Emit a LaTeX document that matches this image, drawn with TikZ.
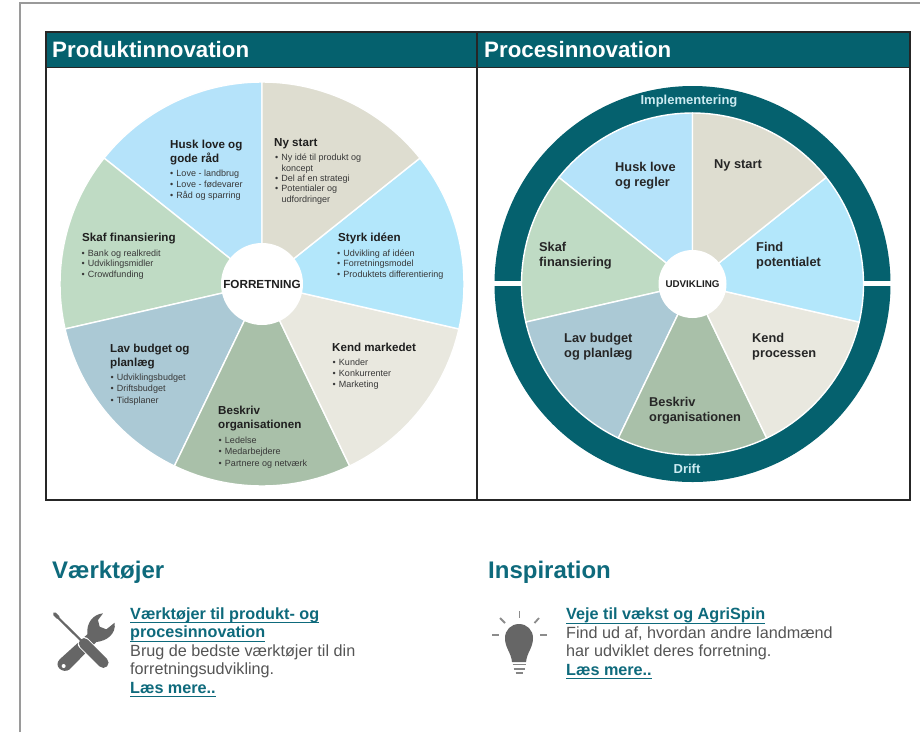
\documentclass[tikz,border=0pt]{standalone}
\usepackage{fontspec}
\setmainfont{Liberation Sans}
\definecolor{teal1}{HTML}{05616E}
\definecolor{linkc}{HTML}{0E6A7C}
\definecolor{frameg}{HTML}{9A9A9A}
\definecolor{bodyg}{HTML}{555555}
\definecolor{icong}{HTML}{666666}
\definecolor{cny}{HTML}{DEDDD0}
\definecolor{cstyrk}{HTML}{B3E7FB}
\definecolor{ckend}{HTML}{E9E8DF}
\definecolor{cbesk}{HTML}{A9C0A9}
\definecolor{clav}{HTML}{ABC9D5}
\definecolor{cskaf}{HTML}{BFDBC4}
\definecolor{chusk}{HTML}{B5E3FA}
\definecolor{ringtxt}{HTML}{CDEBF2}
\newcommand{\bu}{\makebox[6.3pt][l]{•}}
\newcommand{\cnt}{\hspace*{6.3pt}}
\newcommand{\lnk}[1]{\underline{\smash{#1}\rule[-1.8pt]{0pt}{1.8pt}}}
\tikzset{
  tline/.style={anchor=base west,inner sep=0pt,align=left},
  headA/.style={tline,font=\fontsize{11.6}{14}\selectfont\bfseries,text=black!88},
  bulletlist/.style={tline,font=\fontsize{9}{#1}\selectfont,text=black!78},
  headB/.style={tline,font=\fontsize{12.8}{15}\selectfont\bfseries,text=black!85},
  paneltitle/.style={anchor=base west,inner sep=0pt,font=\fontsize{22.3}{26}\selectfont\bfseries,text=white},
  sectiontitle/.style={anchor=base west,inner sep=0pt,font=\fontsize{24}{28}\selectfont\bfseries,text=linkc},
  bodytext/.style={tline,font=\fontsize{16.2}{18.5}\selectfont,text=bodyg},
  hub/.style={circle,fill=white,inner sep=0pt,font=\bfseries,text=black!88},
  ringlabel/.style={anchor=base,inner sep=0pt,font=\fontsize{13}{15}\selectfont\bfseries,text=ringtxt},
  wedge/.style={draw=white,line width=1.4pt,line join=round},
  ray/.style={draw=icong!75,line width=1.8pt}
}
\newcommand{\wheel}[1]{%
  \foreach \a/\c in {90/chusk,141.43/cskaf,192.86/clav,244.29/cbesk,295.71/ckend,347.14/cstyrk,38.57/cny}{%
    \pgfmathsetmacro{\e}{\a+51.43}%
    \path[wedge,fill=\c] (0,0) -- (\a:#1) arc[start angle=\a,end angle=\e,radius=#1pt] -- cycle;
  }}
\begin{document}
\begin{tikzpicture}[x=1pt,y=-1pt]
\useasboundingbox (0,0) rectangle (920,732);
\fill[white] (0,0) rectangle (920,732);
% page frame
\draw[frameg,line width=1.3pt] (20,732) -- (20,3) -- (920,3);
% table
\fill[teal1] (46,32) rectangle (910,67.5);
\draw[black!85,line width=1.1pt] (46,32) rectangle (910,500);
\draw[black!85,line width=1.1pt] (46,67.5) -- (910,67.5);
\draw[black!85,line width=1.1pt] (477,32) -- (477,500);
\node[paneltitle] (tprod) at (52,57) {Produktinnovation};
\node[paneltitle] (tproc) at (484,57) {Procesinnovation};
% left wheel
\begin{scope}[shift={(262,284)},x=1pt,y=1pt]
  \wheel{202}
\end{scope}
\node[hub,minimum size=82pt,font=\fontsize{11.7}{14}\selectfont\bfseries] (hubA) at (262,284) {FORRETNING};
% multi-line nodes are placed by the baseline of their last line
\node[headA] (a1) at (170,162) {Husk love og\\gode råd};
\node[bulletlist=10.6pt] (a1l) at (170,198) {\bu Love - landbrug\\\bu Love - fødevarer\\\bu Råd og sparring};
\node[headA] (a2) at (274,146) {Ny start};
\node[bulletlist=10.3pt] (a2l) at (275,202) {\bu Ny idé til produkt og\\\cnt koncept\\\bu Del af  en strategi\\\bu Potentialer og\\\cnt udfordringer};
\node[headA] (a3) at (338,241) {Styrk idéen};
\node[bulletlist=10.7pt] (a3l) at (337,277.5) {\bu Udvikling af  idéen\\\bu Forretningsmodel\\\bu Produktets differentiering};
\node[headA] (a4) at (82,241) {Skaf finansiering};
\node[bulletlist=10.7pt] (a4l) at (81.5,277.5) {\bu Bank og realkredit\\\bu Udviklingsmidler\\\bu Crowdfunding};
\node[headA] (a5) at (332,351) {Kend markedet};
\node[bulletlist=11pt] (a5l) at (332.5,387) {\bu Kunder\\\bu Konkurrenter\\\bu Marketing};
\node[headA] (a6) at (110,366) {Lav budget og\\planlæg};
\node[bulletlist=11.5pt] (a6l) at (110.5,403) {\bu Udviklingsbudget\\\bu Driftsbudget\\\bu Tidsplaner};
\node[headA] (a7) at (218,428) {Beskriv\\organisationen};
\node[bulletlist=11.5pt] (a7l) at (218.5,466) {\bu Ledelse\\\bu Medarbejdere\\\bu Partnere og netværk};
% right wheel
\fill[teal1,even odd rule] (692.5,284) circle[radius=198pt] (692.5,284) circle[radius=170pt];
\fill[white] (490,281.3) rectangle (524,285.7);
\fill[white] (861,281.3) rectangle (895,285.7);
\begin{scope}[shift={(692.5,284)},x=1pt,y=1pt]
  \wheel{171}
\end{scope}
\node[hub,minimum size=68pt,font=\fontsize{9.8}{12}\selectfont\bfseries] (hubB) at (692.5,284) {UDVIKLING};
\node[ringlabel] (rtop) at (689,104) {Implementering};
\node[ringlabel] (rbot) at (687,473) {Drift};
\node[headB] (b1) at (714,168) {Ny start};
\node[headB] (b2) at (615,186) {Husk love\\og regler};
\node[headB] (b3) at (539,266) {Skaf\\finansiering};
\node[headB] (b4) at (756,266) {Find\\potentialet};
\node[headB] (b5) at (752,357.5) {Kend\\processen};
\node[headB] (b6) at (564,357.5) {Lav budget\\og planlæg};
\node[headB] (b7) at (649,421) {Beskriv\\organisationen};
% bottom sections
\node[sectiontitle] (s1) at (52,578) {Værktøjer};
\node[sectiontitle] (s2) at (488,578) {Inspiration};
\node[bodytext] (c1) at (130,693) {\textbf{\textcolor{linkc}{\lnk{Værktøjer til produkt- og}}}\\\textbf{\textcolor{linkc}{\lnk{procesinnovation}}}\\Brug de bedste værktøjer til din\\forretningsudvikling.\\\textbf{\textcolor{linkc}{\lnk{Læs mere..}}}};
\node[bodytext] (c2) at (566,675) {\textbf{\textcolor{linkc}{\lnk{Veje til vækst og AgriSpin}}}\\Find ud af, hvordan andre landmænd\\har udviklet deres forretning.\\\textbf{\textcolor{linkc}{\lnk{Læs mere..}}}};
% tools icon
\begin{scope}[shift={(48,606)},x=0.3333pt,y=-0.3333pt]
  \fill[icong] (165,22) .. controls (135,25) and (115,50) .. (118,85) -- (35,160)
    .. controls (15,180) and (45,205) .. (65,190) -- (145,108)
    .. controls (175,105) and (205,85) .. (200,50) -- (175,70) -- (155,62) -- (150,42) -- cycle;
  \fill[white] (47,180) circle[radius=2pt];
  \draw[white,line width=12.5pt,line cap=round] (108,112) -- (166,170);
  \draw[icong,line width=10.5pt,line cap=round] (108,112) -- (166,170);
  \draw[icong,line width=2.2pt] (25,30) -- (100,104);
  \draw[icong,line width=3.6pt,line cap=round] (20,24) -- (30,34);
\end{scope}
% bulb icon
\fill[icong] (512,662) .. controls (511,652) and (505,648) .. (505,638)
  .. controls (505,630) and (511,624) .. (519,624)
  .. controls (527,624) and (533,630) .. (533,638)
  .. controls (533,648) and (527,652) .. (526,662) -- cycle;
\draw[icong!80,line width=1.8pt] (512.5,664.5) -- (525.5,664.5);
\draw[icong!80,line width=1.8pt] (513.5,668.8) -- (524.5,668.8);
\draw[icong!80,line width=1.8pt] (515.5,673) -- (522.5,673);
\draw[ray] (519.5,611) -- (519.5,618);
\draw[ray] (500,618) -- (505,623);
\draw[ray] (539,618) -- (534.5,623);
\draw[ray] (492,635) -- (499,635);
\draw[ray] (540,635) -- (547,635);
\end{tikzpicture}
\end{document}
